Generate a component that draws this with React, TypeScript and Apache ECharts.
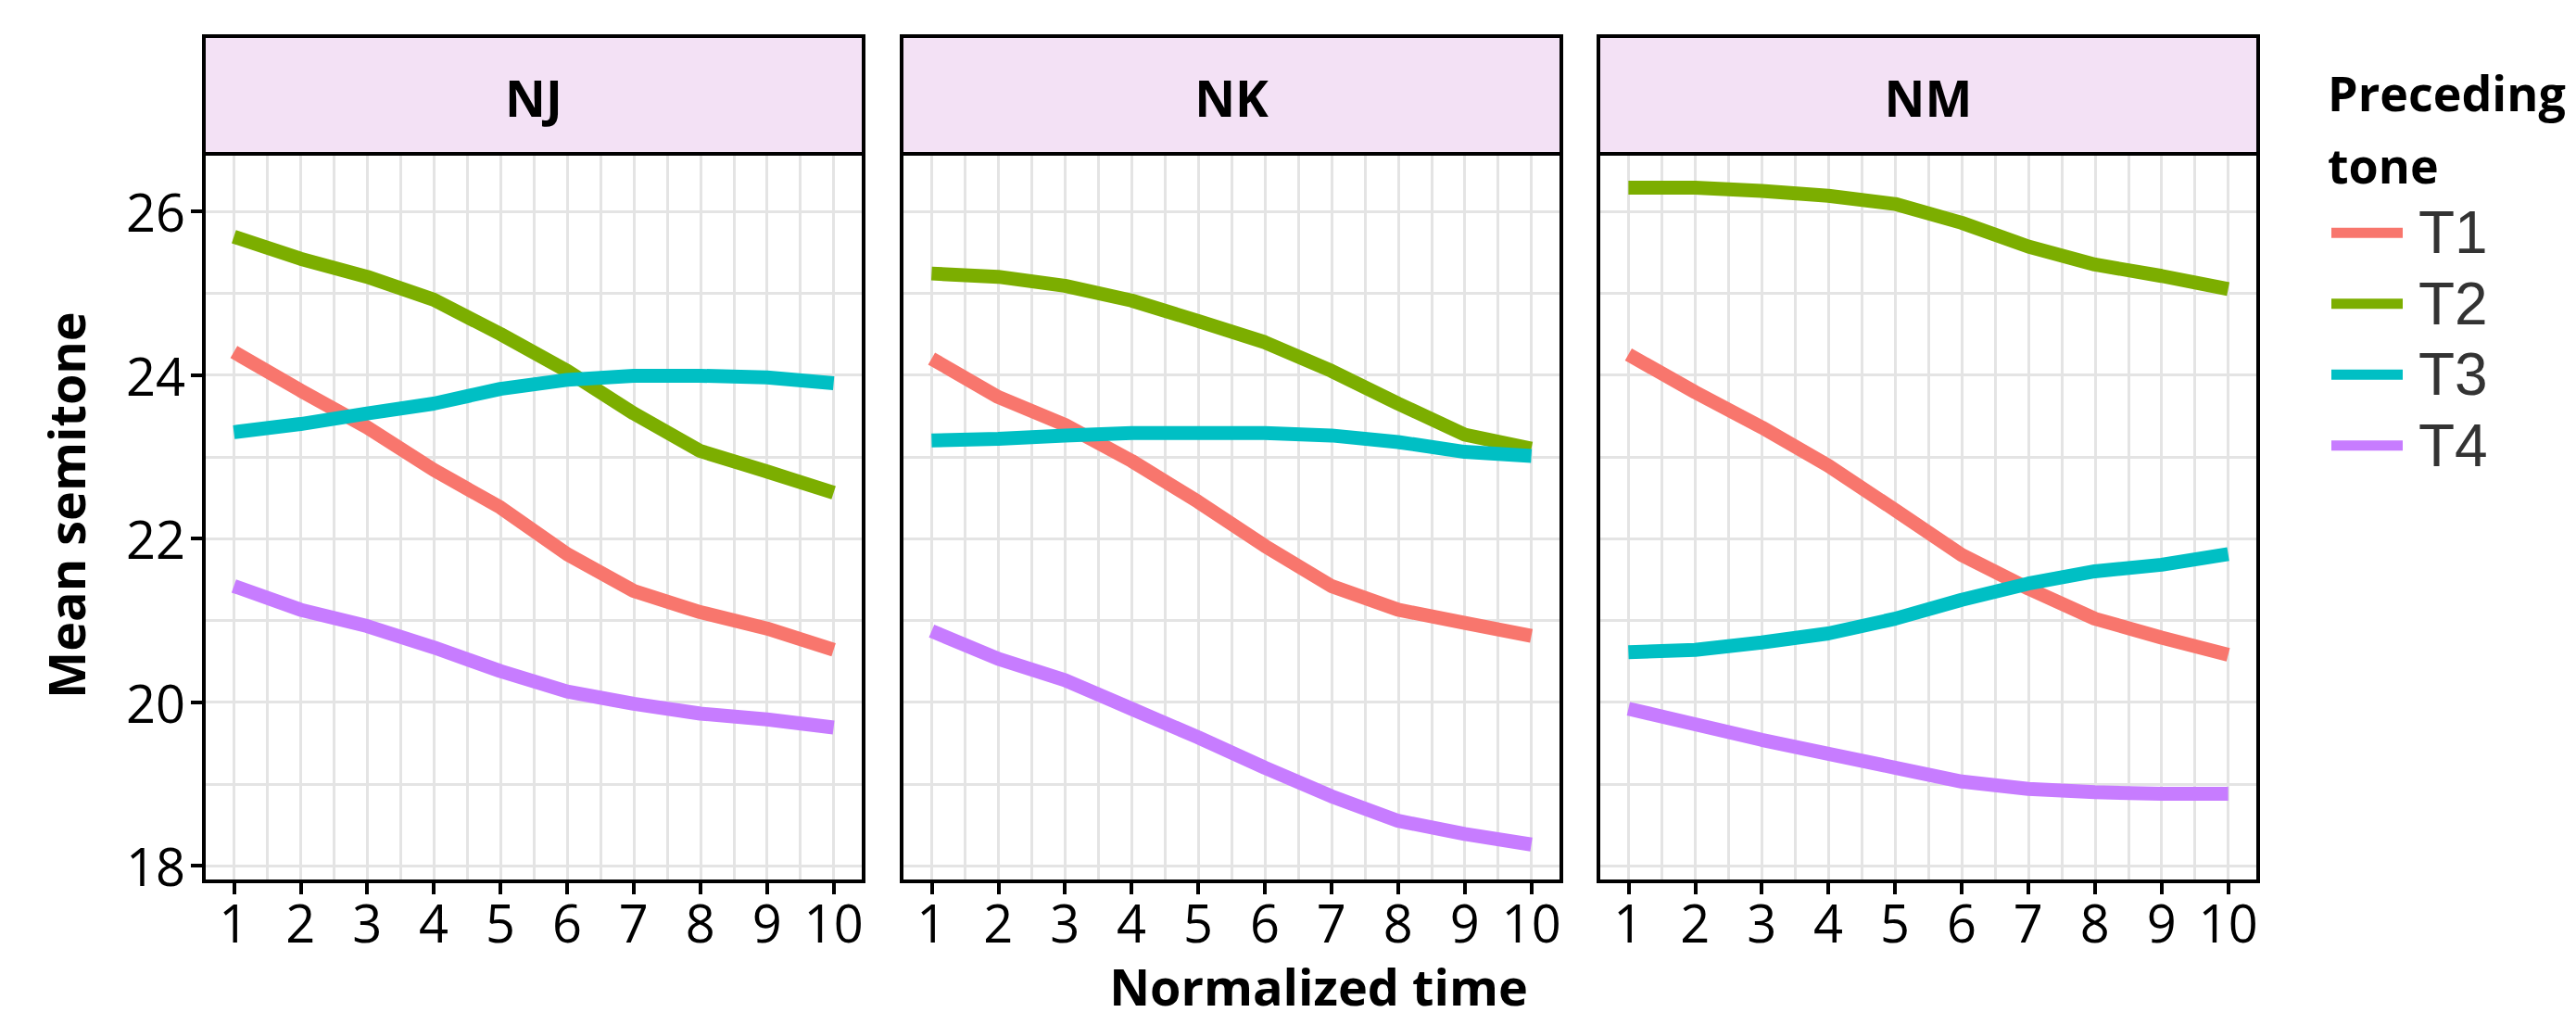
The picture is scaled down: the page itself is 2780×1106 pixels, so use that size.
import React, { useEffect, useRef } from 'react';
import * as echarts from 'echarts';

// ---------- data ----------
const times = [1, 2, 3, 4, 5, 6, 7, 8, 9, 10];
const panelNames = ['NJ', 'NK', 'NM'];
const toneNames = ['T1', 'T2', 'T3', 'T4'];
const toneColors = ['#F8766D', '#7CAE00', '#00BFC4', '#C77CFF'];

const xTickValues = [1, 2, 3, 4, 5, 6, 7, 8, 9, 10];
const xMinorValues = [1.5, 2.5, 3.5, 4.5, 5.5, 6.5, 7.5, 8.5, 9.5];
const yTickValues = [18, 20, 22, 24, 26];
const yMinorValues = [19, 21, 23, 25];

const nj_T1 = [24.28, 23.81, 23.36, 22.84, 22.38, 21.81, 21.36, 21.10, 20.90, 20.64];
const nj_T2 = [25.69, 25.42, 25.20, 24.92, 24.50, 24.05, 23.53, 23.07, 22.82, 22.56];
const nj_T3 = [23.30, 23.40, 23.53, 23.65, 23.83, 23.94, 23.99, 23.99, 23.97, 23.90];
const nj_T4 = [21.42, 21.13, 20.93, 20.67, 20.38, 20.13, 19.98, 19.86, 19.79, 19.69];

const nk_T1 = [24.20, 23.73, 23.39, 22.95, 22.45, 21.91, 21.42, 21.13, 20.97, 20.81];
const nk_T2 = [25.24, 25.20, 25.09, 24.91, 24.66, 24.40, 24.05, 23.65, 23.27, 23.10];
const nk_T3 = [23.20, 23.22, 23.26, 23.29, 23.29, 23.29, 23.26, 23.18, 23.06, 23.01];
const nk_T4 = [20.87, 20.53, 20.27, 19.92, 19.57, 19.20, 18.85, 18.55, 18.39, 18.26];

const nm_T1 = [24.25, 23.79, 23.36, 22.89, 22.35, 21.80, 21.39, 21.02, 20.79, 20.58];
const nm_T2 = [26.29, 26.29, 26.25, 26.19, 26.09, 25.86, 25.57, 25.35, 25.21, 25.05];
const nm_T3 = [20.61, 20.64, 20.73, 20.84, 21.02, 21.25, 21.45, 21.60, 21.68, 21.81];
const nm_T4 = [19.92, 19.73, 19.54, 19.37, 19.20, 19.03, 18.94, 18.90, 18.88, 18.88];

const panelData = [
  [nj_T1, nj_T2, nj_T3, nj_T4],
  [nk_T1, nk_T2, nk_T3, nk_T4],
  [nm_T1, nm_T2, nm_T3, nm_T4],
];

// ---------- layout ----------
const FONT = "'Open Sans', 'Liberation Sans', sans-serif";
const LEGEND_FONT = "'Liberation Sans', Arial, sans-serif";
const PANEL_LEFT = [220, 973, 1725];
const PANEL_W = 712;
const PLOT_TOP = 168;
const PLOT_H = 783;
const STRIP_TOP = 39;
const STRIP_H = 127;
const GRID_COLOR = '#E4E4E4';
const X_MIN = 0.55;
const X_MAX = 10.45;
const Y_MIN = 17.81;
const Y_MAX = 26.68;

function buildOption() {
  const grid = PANEL_LEFT.map((l) => ({ left: l, top: PLOT_TOP, width: PANEL_W, height: PLOT_H, show: false }));

  const xAxis: any[] = [];
  const yAxis: any[] = [];
  PANEL_LEFT.forEach((_, i) => {
    xAxis.push({
      type: 'value', gridIndex: i, min: X_MIN, max: X_MAX, position: 'bottom',
      axisLine: { show: false },
      axisTick: { show: true, inside: false, length: 14, lineStyle: { color: '#000', width: 4 }, customValues: xTickValues },
      axisLabel: { show: true, customValues: xTickValues, fontSize: 56, fontFamily: FONT, color: '#000', margin: 16 },
      splitLine: { show: true, lineStyle: { color: GRID_COLOR, width: 3 } },
    });
    yAxis.push({
      type: 'value', gridIndex: i, min: Y_MIN, max: Y_MAX, position: 'left',
      axisLine: { show: false },
      axisTick: { show: i === 0, inside: false, length: 14, lineStyle: { color: '#000', width: 4 }, customValues: yTickValues },
      axisLabel: { show: i === 0, customValues: yTickValues, fontSize: 56, fontFamily: FONT, color: '#000', margin: 20 },
      splitLine: { show: true, lineStyle: { color: GRID_COLOR, width: 3 } },
    });
  });
  PANEL_LEFT.forEach((_, i) => {
    xAxis.push({
      type: 'value', gridIndex: i, min: X_MIN, max: X_MAX, position: 'top',
      axisLine: { show: false },
      axisTick: { show: false, customValues: xMinorValues },
      axisLabel: { show: false },
      splitLine: { show: true, lineStyle: { color: GRID_COLOR, width: 3 } },
    });
    yAxis.push({
      type: 'value', gridIndex: i, min: Y_MIN, max: Y_MAX, position: 'right',
      axisLine: { show: false },
      axisTick: { show: false, customValues: yMinorValues },
      axisLabel: { show: false },
      splitLine: { show: true, lineStyle: { color: GRID_COLOR, width: 3 } },
    });
  });

  const series: any[] = [];
  panelData.forEach((tones, i) => {
    tones.forEach((vals, j) => {
      series.push({
        type: 'line',
        name: toneNames[j],
        xAxisIndex: i,
        yAxisIndex: i,
        data: times.map((t, k) => [t, vals[k]]),
        showSymbol: false,
        symbol: 'none',
        smooth: false,
        silent: true,
        z: 3 + j,
        itemStyle: { color: toneColors[j] },
        lineStyle: { width: 15, color: toneColors[j], cap: 'butt' },
      });
    });
  });

  const graphic: any[] = [];
  PANEL_LEFT.forEach((l, i) => {
    graphic.push({
      type: 'rect', z: 50, silent: true,
      shape: { x: l, y: STRIP_TOP, width: PANEL_W, height: STRIP_H },
      style: { fill: '#F3E1F5', stroke: '#000', lineWidth: 4 },
    });
    graphic.push({
      type: 'text', z: 51, silent: true, x: l + PANEL_W / 2, y: STRIP_TOP + 66,
      style: { text: panelNames[i], fontSize: 54, fontWeight: 'bold', fontFamily: FONT, fill: '#000', align: 'center', verticalAlign: 'middle' },
    });
    graphic.push({
      type: 'rect', z: 52, silent: true,
      shape: { x: l, y: STRIP_TOP + STRIP_H, width: PANEL_W, height: PLOT_TOP + PLOT_H - STRIP_TOP - STRIP_H },
      style: { fill: 'none', stroke: '#000', lineWidth: 4 },
    });
  });
  graphic.push({
    type: 'text', z: 51, silent: true, x: 71, y: 545, rotation: Math.PI / 2,
    style: { text: 'Mean semitone', fontSize: 54, fontWeight: 'bold', fontFamily: FONT, fill: '#000', align: 'center', verticalAlign: 'middle', lineHeight: 54 },
  });
  graphic.push({
    type: 'text', z: 51, silent: true, x: 1423, y: 1064,
    style: { text: 'Normalized time', fontSize: 54, fontWeight: 'bold', fontFamily: FONT, fill: '#000', align: 'center', verticalAlign: 'middle', lineHeight: 54 },
  });
  graphic.push({
    type: 'text', z: 51, silent: true, x: 2512, y: 60,
    style: { text: 'Preceding\ntone', fontSize: 52, fontWeight: 'bold', fontFamily: FONT, fill: '#000', align: 'left', verticalAlign: 'top', lineHeight: 78 },
  });

  return {
    animation: false,
    backgroundColor: '#ffffff',
    grid,
    xAxis,
    yAxis,
    series,
    legend: {
      show: true,
      orient: 'vertical',
      left: 2511,
      top: 208,
      itemWidth: 77,
      itemHeight: 11,
      itemGap: 0,
      icon: 'rect',
      selectedMode: false,
      data: toneNames,
      textStyle: { fontSize: 64, fontFamily: LEGEND_FONT, color: '#333', lineHeight: 76.5, padding: [0, 0, 0, 12] },
    },
    graphic,
  };
}

export default function App() {
  const ref = useRef<HTMLDivElement>(null);
  useEffect(() => {
    if (!ref.current) return;
    const chart = echarts.init(ref.current, undefined, { renderer: 'svg' });
    chart.setOption(buildOption() as any);
    return () => chart.dispose();
  }, []);
  return (
    <div
      ref={ref}
      style={{ position: 'absolute', left: 0, top: 0, width: 2780, height: 1106, background: '#fff' }}
    />
  );
}
